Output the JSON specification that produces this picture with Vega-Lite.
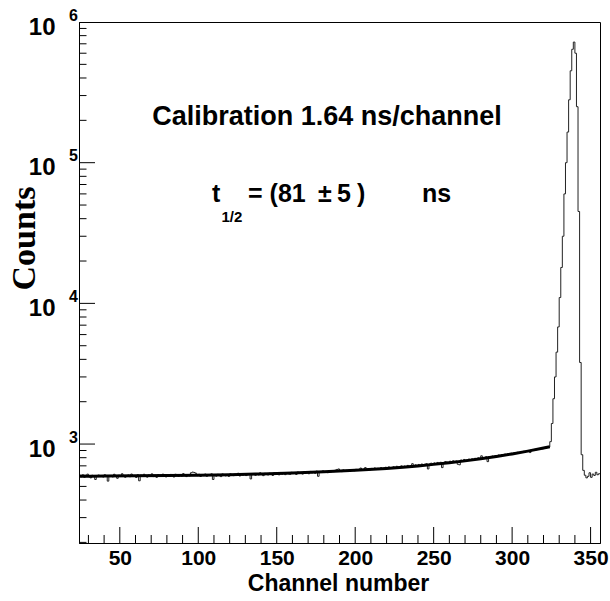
{
  "$schema": "https://vega.github.io/schema/vega-lite/v6.json",
  "width": 521,
  "height": 521,
  "autosize": "none",
  "padding": {"left": 79, "top": 22, "right": 10, "bottom": 58},
  "background": "white",
  "config": {
    "view": {"stroke": "#000", "strokeWidth": 1},
    "axis": {"grid": false, "domainColor": "#000", "tickColor": "#000", "labelColor": "#000", "titleColor": "#000", "labelOverlap": false, "labelBound": false, "labelFlush": false}
  },
  "layer": [
    {
      "data": {"values": [
        {"ch":24,"n":598},{"ch":25,"n":585},{"ch":26,"n":604},{"ch":27,"n":580},{"ch":28,"n":592},{"ch":29,"n":611},{"ch":30,"n":586},{"ch":31,"n":575},{"ch":32,"n":600},{"ch":33,"n":593},
        {"ch":34,"n":560},{"ch":35,"n":590},{"ch":36,"n":602},{"ch":37,"n":588},{"ch":38,"n":596},{"ch":39,"n":583},{"ch":40,"n":605},{"ch":41,"n":594},{"ch":42,"n":545},{"ch":43,"n":590},
        {"ch":44,"n":597},{"ch":45,"n":584},{"ch":46,"n":610},{"ch":47,"n":588},{"ch":48,"n":571},{"ch":49,"n":600},{"ch":50,"n":592},{"ch":51,"n":615},{"ch":52,"n":598},{"ch":53,"n":581},
        {"ch":54,"n":595},{"ch":55,"n":603},{"ch":56,"n":586},{"ch":57,"n":612},{"ch":58,"n":590},{"ch":59,"n":597},{"ch":60,"n":579},{"ch":61,"n":605},{"ch":62,"n":548},{"ch":63,"n":601},
        {"ch":64,"n":588},{"ch":65,"n":610},{"ch":66,"n":596},{"ch":67,"n":582},{"ch":68,"n":603},{"ch":69,"n":591},{"ch":70,"n":614},{"ch":71,"n":587},{"ch":72,"n":599},{"ch":73,"n":580},
        {"ch":74,"n":606},{"ch":75,"n":593},{"ch":76,"n":588},{"ch":77,"n":611},{"ch":78,"n":597},{"ch":79,"n":584},{"ch":80,"n":602},{"ch":81,"n":590},{"ch":82,"n":608},{"ch":83,"n":595},
        {"ch":84,"n":583},{"ch":85,"n":610},{"ch":86,"n":598},{"ch":87,"n":589},{"ch":88,"n":605},{"ch":89,"n":592},{"ch":90,"n":616},{"ch":91,"n":600},{"ch":92,"n":587},{"ch":93,"n":606},
        {"ch":94,"n":594},{"ch":95,"n":625},{"ch":96,"n":632},{"ch":97,"n":628},{"ch":98,"n":620},{"ch":99,"n":596},{"ch":100,"n":610},{"ch":101,"n":588},{"ch":102,"n":603},{"ch":103,"n":597},
        {"ch":104,"n":612},{"ch":105,"n":590},{"ch":106,"n":605},{"ch":107,"n":599},{"ch":108,"n":614},{"ch":109,"n":560},{"ch":110,"n":602},{"ch":111,"n":591},{"ch":112,"n":609},{"ch":113,"n":596},
        {"ch":114,"n":587},{"ch":115,"n":613},{"ch":116,"n":600},{"ch":117,"n":594},{"ch":118,"n":608},{"ch":119,"n":589},{"ch":120,"n":615},{"ch":121,"n":603},{"ch":122,"n":596},{"ch":123,"n":611},
        {"ch":124,"n":598},{"ch":125,"n":620},{"ch":126,"n":593},{"ch":127,"n":609},{"ch":128,"n":601},{"ch":129,"n":616},{"ch":130,"n":597},{"ch":131,"n":604},{"ch":132,"n":612},{"ch":133,"n":565},
        {"ch":134,"n":606},{"ch":135,"n":618},{"ch":136,"n":599},{"ch":137,"n":611},{"ch":138,"n":603},{"ch":139,"n":625},{"ch":140,"n":608},{"ch":141,"n":596},{"ch":142,"n":619},{"ch":143,"n":610},
        {"ch":144,"n":603},{"ch":145,"n":621},{"ch":146,"n":612},{"ch":147,"n":598},{"ch":148,"n":625},{"ch":149,"n":609},{"ch":150,"n":615},{"ch":151,"n":604},{"ch":152,"n":628},{"ch":153,"n":611},
        {"ch":154,"n":620},{"ch":155,"n":606},{"ch":156,"n":626},{"ch":157,"n":614},{"ch":158,"n":609},{"ch":159,"n":630},{"ch":160,"n":617},{"ch":161,"n":622},{"ch":162,"n":608},{"ch":163,"n":633},
        {"ch":164,"n":619},{"ch":165,"n":627},{"ch":166,"n":612},{"ch":167,"n":636},{"ch":168,"n":621},{"ch":169,"n":628},{"ch":170,"n":615},{"ch":171,"n":639},{"ch":172,"n":624},{"ch":173,"n":631},
        {"ch":174,"n":620},{"ch":175,"n":642},{"ch":176,"n":590},{"ch":177,"n":635},{"ch":178,"n":628},{"ch":179,"n":645},{"ch":180,"n":630},{"ch":181,"n":638},{"ch":182,"n":626},{"ch":183,"n":648},
        {"ch":184,"n":633},{"ch":185,"n":641},{"ch":186,"n":637},{"ch":187,"n":652},{"ch":188,"n":660},{"ch":189,"n":665},{"ch":190,"n":644},{"ch":191,"n":637},{"ch":192,"n":655},{"ch":193,"n":642},
        {"ch":194,"n":650},{"ch":195,"n":643},{"ch":196,"n":657},{"ch":197,"n":648},{"ch":198,"n":655},{"ch":199,"n":646},{"ch":200,"n":661},{"ch":201,"n":652},{"ch":202,"n":658},{"ch":203,"n":675},
        {"ch":204,"n":654},{"ch":205,"n":662},{"ch":206,"n":680},{"ch":207,"n":658},{"ch":208,"n":666},{"ch":209,"n":655},{"ch":210,"n":671},{"ch":211,"n":663},{"ch":212,"n":676},{"ch":213,"n":660},
        {"ch":214,"n":672},{"ch":215,"n":665},{"ch":216,"n":680},{"ch":217,"n":669},{"ch":218,"n":676},{"ch":219,"n":684},{"ch":220,"n":671},{"ch":221,"n":688},{"ch":222,"n":675},{"ch":223,"n":682},
        {"ch":224,"n":690},{"ch":225,"n":679},{"ch":226,"n":695},{"ch":227,"n":684},{"ch":228,"n":692},{"ch":229,"n":700},{"ch":230,"n":686},{"ch":231,"n":698},{"ch":232,"n":691},{"ch":233,"n":705},
        {"ch":234,"n":696},{"ch":235,"n":703},{"ch":236,"n":725},{"ch":237,"n":700},{"ch":238,"n":712},{"ch":239,"n":704},{"ch":240,"n":716},{"ch":241,"n":707},{"ch":242,"n":721},{"ch":243,"n":711},
        {"ch":244,"n":719},{"ch":245,"n":725},{"ch":246,"n":665},{"ch":247,"n":722},{"ch":248,"n":731},{"ch":249,"n":726},{"ch":250,"n":735},{"ch":251,"n":728},{"ch":252,"n":740},{"ch":253,"n":733},
        {"ch":254,"n":742},{"ch":255,"n":680},{"ch":256,"n":738},{"ch":257,"n":750},{"ch":258,"n":745},{"ch":259,"n":741},{"ch":260,"n":755},{"ch":261,"n":748},{"ch":262,"n":760},{"ch":263,"n":752},
        {"ch":264,"n":758},{"ch":265,"n":718},{"ch":266,"n":712},{"ch":267,"n":770},{"ch":268,"n":763},{"ch":269,"n":777},{"ch":270,"n":769},{"ch":271,"n":774},{"ch":272,"n":782},{"ch":273,"n":776},
        {"ch":274,"n":785},{"ch":275,"n":779},{"ch":276,"n":792},{"ch":277,"n":786},{"ch":278,"n":798},{"ch":279,"n":790},{"ch":280,"n":825},{"ch":281,"n":802},{"ch":282,"n":796},{"ch":283,"n":812},
        {"ch":284,"n":750},{"ch":285,"n":815},{"ch":286,"n":809},{"ch":287,"n":822},{"ch":288,"n":816},{"ch":289,"n":829},{"ch":290,"n":824},{"ch":291,"n":836},{"ch":292,"n":830},{"ch":293,"n":841},
        {"ch":294,"n":836},{"ch":295,"n":848},{"ch":296,"n":842},{"ch":297,"n":855},{"ch":298,"n":850},{"ch":299,"n":861},{"ch":300,"n":857},{"ch":301,"n":868},{"ch":302,"n":862},{"ch":303,"n":874},
        {"ch":304,"n":870},{"ch":305,"n":880},{"ch":306,"n":875},{"ch":307,"n":888},{"ch":308,"n":884},{"ch":309,"n":895},{"ch":310,"n":890},{"ch":311,"n":870},{"ch":312,"n":912},{"ch":313,"n":906},
        {"ch":314,"n":915},{"ch":315,"n":910},{"ch":316,"n":922},{"ch":317,"n":918},{"ch":318,"n":930},{"ch":319,"n":925},{"ch":320,"n":938},{"ch":321,"n":933},{"ch":322,"n":945},{"ch":323,"n":952},
        {"ch":324,"n":1040},{"ch":325,"n":1400},{"ch":326,"n":2100},{"ch":327,"n":3000},{"ch":328,"n":4500},{"ch":329,"n":6800},{"ch":330,"n":11000},{"ch":331,"n":18000},{"ch":332,"n":30000},{"ch":333,"n":60000},
        {"ch":334,"n":100000},{"ch":335,"n":165000},{"ch":336,"n":280000},{"ch":337,"n":450000},{"ch":338,"n":640000},{"ch":339,"n":720000},{"ch":340,"n":600000},{"ch":341,"n":250000},{"ch":342,"n":45000},{"ch":343,"n":3800},
        {"ch":344,"n":840},{"ch":345,"n":650},{"ch":346,"n":600},{"ch":347,"n":575},{"ch":348,"n":590},{"ch":349,"n":625},{"ch":350,"n":580},{"ch":351,"n":612},{"ch":352,"n":598},{"ch":353,"n":630},
        {"ch":354,"n":605},{"ch":355,"n":615},{"ch":356,"n":615}
      ]},
      "mark": {"type": "line", "interpolate": "step-after", "stroke": "#222", "strokeWidth": 1, "clip": true},
      "encoding": {
        "x": {"field": "ch", "type": "quantitative",
              "scale": {"domain": [24, 356], "nice": false, "zero": false},
              "axis": {"orient": "bottom", "values": [50, 100, 150, 200, 250, 300, 350], "ticks": false, "tickSize": 0, "domain": true, "domainWidth": 1,
                       "labelFont": "Liberation Sans", "labelFontWeight": "bold", "labelFontSize": 21, "labelPadding": 4, "labelBaseline": "top",
                       "title": "Channel number", "titleFont": "Liberation Sans", "titleFontWeight": "bold", "titleFontSize": 23,
                       "titleBaseline": "alphabetic", "titleY": 47, "titleX": 259, "titleAnchor": null, "titleAlign": "center"}},
        "y": {"field": "n", "type": "quantitative",
              "scale": {"type": "log", "domain": [198, 1000000], "nice": false},
              "axis": {"orient": "left", "values": [1000, 10000, 100000, 1000000], "labelExpr": "'10'", "ticks": false, "tickSize": 0, "domain": true,
                       "labelFont": "Liberation Sans", "labelFontWeight": "bold", "labelFontSize": 24, "labelPadding": 24, "labelBaseline": "alphabetic", "labelOffset": 12, "labelAlign": "right",
                       "title": "Counts", "titleFont": "Liberation Serif", "titleFontWeight": "bold", "titleFontSize": 34, "titleAngle": -90,
                       "titleBaseline": "middle", "titleAlign": "center", "titleX": -55, "titleY": 216, "titleAnchor": null}}
      }
    },
    {
      "data": {"values": [
        {"c":24,"f":590.5},{"c":40,"f":591.9},{"c":60,"f":594.1},{"c":80,"f":597.1},{"c":100,"f":601},{"c":120,"f":606.2},
        {"c":140,"f":613.1},{"c":160,"f":622.2},{"c":180,"f":634.3},{"c":200,"f":650.3},{"c":220,"f":671.4},{"c":240,"f":699.5},
        {"c":250,"f":717},{"c":260,"f":736.6},{"c":270,"f":759.4},{"c":280,"f":785.6},{"c":290,"f":816},{"c":300,"f":850.6},
        {"c":310,"f":890.7},{"c":320,"f":936.7},{"c":324,"f":957}
      ]},
      "mark": {"type": "line", "interpolate": "monotone", "stroke": "#000", "strokeWidth": 3, "clip": true},
      "encoding": {
        "x": {"field": "c", "type": "quantitative"},
        "y": {"field": "f", "type": "quantitative"}
      }
    },
    {
      "data": {"values": [{"v": 1000}, {"v": 10000}, {"v": 100000}, {"v": 1000000}]},
      "mark": {"type": "tick", "orient": "horizontal", "size": 32, "thickness": 1, "color": "#000", "opacity": 1, "clip": true},
      "encoding": {
        "x": {"datum": 24, "type": "quantitative"},
        "y": {"field": "v", "type": "quantitative"}
      }
    },
    {
      "data": {"values": [
        {"v": 200}, {"v": 300}, {"v": 400}, {"v": 500}, {"v": 600}, {"v": 700}, {"v": 800}, {"v": 900},
        {"v": 2000}, {"v": 3000}, {"v": 4000}, {"v": 5000}, {"v": 6000}, {"v": 7000}, {"v": 8000}, {"v": 9000},
        {"v": 20000}, {"v": 30000}, {"v": 40000}, {"v": 50000}, {"v": 60000}, {"v": 70000}, {"v": 80000}, {"v": 90000},
        {"v": 200000}, {"v": 300000}, {"v": 400000}, {"v": 500000}, {"v": 600000}, {"v": 700000}, {"v": 800000}, {"v": 900000}
      ]},
      "mark": {"type": "tick", "orient": "horizontal", "size": 15, "thickness": 1, "color": "#000", "opacity": 1, "clip": true},
      "encoding": {
        "x": {"datum": 24, "type": "quantitative"},
        "y": {"field": "v", "type": "quantitative"}
      }
    },
    {
      "data": {"values": [{"v": 50}, {"v": 100}, {"v": 150}, {"v": 200}, {"v": 250}, {"v": 300}, {"v": 350}]},
      "mark": {"type": "tick", "orient": "vertical", "size": 32, "thickness": 1, "color": "#000", "opacity": 1, "clip": true},
      "encoding": {
        "x": {"field": "v", "type": "quantitative"},
        "y": {"datum": 198, "type": "quantitative"}
      }
    },
    {
      "data": {"values": [
        {"v": 30}, {"v": 40}, {"v": 60}, {"v": 70}, {"v": 80}, {"v": 90}, {"v": 110}, {"v": 120}, {"v": 130}, {"v": 140},
        {"v": 160}, {"v": 170}, {"v": 180}, {"v": 190}, {"v": 210}, {"v": 220}, {"v": 230}, {"v": 240}, {"v": 260}, {"v": 270},
        {"v": 280}, {"v": 290}, {"v": 310}, {"v": 320}, {"v": 330}, {"v": 340}
      ]},
      "mark": {"type": "tick", "orient": "vertical", "size": 16, "thickness": 1, "color": "#000", "opacity": 1, "clip": true},
      "encoding": {
        "x": {"field": "v", "type": "quantitative"},
        "y": {"datum": 198, "type": "quantitative"}
      }
    },
    {
      "data": {"values": [
        {"v": 1000, "e": "3"}, {"v": 10000, "e": "4"}, {"v": 100000, "e": "5"}, {"v": 1000000, "e": "6"}
      ]},
      "mark": {"type": "text", "font": "Liberation Sans", "fontWeight": "bold", "fontSize": 16, "align": "left", "baseline": "alphabetic", "dx": -10, "dy": -1.5, "color": "#000"},
      "encoding": {
        "x": {"datum": 24, "type": "quantitative"},
        "y": {"field": "v", "type": "quantitative"},
        "text": {"field": "e"}
      }
    },
    {
      "data": {"values": [{"t": "Calibration 1.64 ns/channel"}]},
      "mark": {"type": "text", "font": "Liberation Sans", "fontWeight": "bold", "fontSize": 27, "align": "center", "baseline": "alphabetic", "color": "#000"},
      "encoding": {
        "x": {"datum": 182, "type": "quantitative"},
        "y": {"datum": 185400, "type": "quantitative"},
        "text": {"field": "t"}
      }
    },
    {
      "data": {"values": [{"t": "t"}]},
      "mark": {"type": "text", "font": "Liberation Sans", "fontWeight": "bold", "fontSize": 25, "align": "left", "baseline": "alphabetic", "color": "#000"},
      "encoding": {
        "x": {"datum": 108.8, "type": "quantitative"},
        "y": {"datum": 52500, "type": "quantitative"},
        "text": {"field": "t"}
      }
    },
    {
      "data": {"values": [{"t": "1/2"}]},
      "mark": {"type": "text", "font": "Liberation Sans", "fontWeight": "bold", "fontSize": 15, "align": "left", "baseline": "alphabetic", "color": "#000"},
      "encoding": {
        "x": {"datum": 114.8, "type": "quantitative"},
        "y": {"datum": 37850, "type": "quantitative"},
        "text": {"field": "t"}
      }
    },
    {
      "data": {"values": [{"t": "= (81"}]},
      "mark": {"type": "text", "font": "Liberation Sans", "fontWeight": "bold", "fontSize": 25, "align": "left", "baseline": "alphabetic", "color": "#000"},
      "encoding": {
        "x": {"datum": 131.7, "type": "quantitative"},
        "y": {"datum": 52500, "type": "quantitative"},
        "text": {"field": "t"}
      }
    },
    {
      "data": {"values": [{"t": "±"}]},
      "mark": {"type": "text", "font": "Liberation Sans", "fontWeight": "bold", "fontSize": 25, "align": "left", "baseline": "alphabetic", "color": "#000"},
      "encoding": {
        "x": {"datum": 176.3, "type": "quantitative"},
        "y": {"datum": 52500, "type": "quantitative"},
        "text": {"field": "t"}
      }
    },
    {
      "data": {"values": [{"t": "5"}]},
      "mark": {"type": "text", "font": "Liberation Sans", "fontWeight": "bold", "fontSize": 25, "align": "left", "baseline": "alphabetic", "color": "#000"},
      "encoding": {
        "x": {"datum": 188.4, "type": "quantitative"},
        "y": {"datum": 52500, "type": "quantitative"},
        "text": {"field": "t"}
      }
    },
    {
      "data": {"values": [{"t": ")"}]},
      "mark": {"type": "text", "font": "Liberation Sans", "fontWeight": "bold", "fontSize": 25, "align": "left", "baseline": "alphabetic", "color": "#000"},
      "encoding": {
        "x": {"datum": 201.2, "type": "quantitative"},
        "y": {"datum": 52500, "type": "quantitative"},
        "text": {"field": "t"}
      }
    },
    {
      "data": {"values": [{"t": "ns"}]},
      "mark": {"type": "text", "font": "Liberation Sans", "fontWeight": "bold", "fontSize": 25, "align": "left", "baseline": "alphabetic", "color": "#000"},
      "encoding": {
        "x": {"datum": 242.6, "type": "quantitative"},
        "y": {"datum": 52500, "type": "quantitative"},
        "text": {"field": "t"}
      }
    }
  ]
}
